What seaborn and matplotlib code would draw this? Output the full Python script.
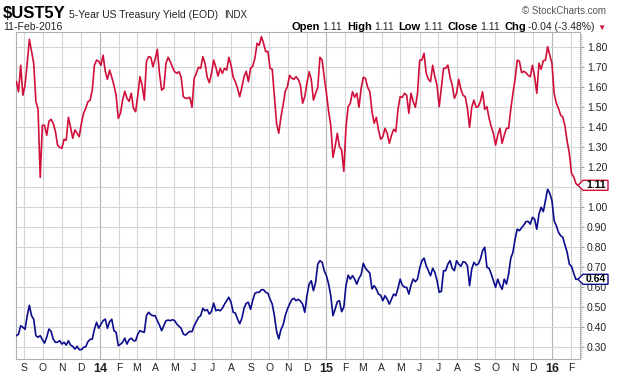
import numpy as np
import pandas as pd
import matplotlib
matplotlib.use("Agg")
import matplotlib.pyplot as plt
from matplotlib.patches import Polygon
from matplotlib.transforms import IdentityTransform
import seaborn as sns

dates = list(pd.date_range("2013-08-19", periods=259, freq="84h")) + [pd.Timestamp("2016-02-11")]

ust5y = [1.63, 1.578, 1.71, 1.56, 1.61, 1.72, 1.84, 1.78, 1.72, 1.53,
         1.49, 1.15, 1.41, 1.41, 1.36, 1.43, 1.44, 1.42, 1.38, 1.31,
         1.30, 1.295, 1.34, 1.335, 1.45, 1.40, 1.345, 1.387, 1.37, 1.353,
         1.42, 1.47, 1.495, 1.528, 1.535, 1.586, 1.71, 1.736, 1.73, 1.71,
         1.76, 1.68, 1.64, 1.686, 1.65, 1.61, 1.56, 1.445, 1.47, 1.536,
         1.58, 1.545, 1.53, 1.57, 1.495, 1.478, 1.56, 1.653, 1.61, 1.536,
         1.73, 1.753, 1.75, 1.703, 1.74, 1.79, 1.67, 1.586, 1.595, 1.72,
         1.75, 1.728, 1.70, 1.678, 1.67, 1.678, 1.65, 1.553, 1.545, 1.545,
         1.55, 1.50, 1.645, 1.67, 1.70, 1.695, 1.753, 1.72, 1.65, 1.623,
         1.67, 1.736, 1.70, 1.656, 1.695, 1.67, 1.695, 1.686, 1.75, 1.71,
         1.65, 1.628, 1.595, 1.553, 1.60, 1.653, 1.68, 1.628, 1.695, 1.706,
         1.745, 1.82, 1.81, 1.853, 1.82, 1.778, 1.78, 1.695, 1.69, 1.553,
         1.42, 1.37, 1.45, 1.511, 1.58, 1.603, 1.66, 1.645, 1.64, 1.653,
         1.64, 1.611, 1.52, 1.553, 1.62, 1.678, 1.64, 1.536, 1.57, 1.60,
         1.75, 1.736, 1.65, 1.57, 1.48, 1.41, 1.25, 1.303, 1.37, 1.303,
         1.287, 1.18, 1.40, 1.503, 1.52, 1.578, 1.55, 1.57, 1.50, 1.595,
         1.65, 1.645, 1.60, 1.578, 1.48, 1.42, 1.45, 1.387, 1.34, 1.353,
         1.395, 1.37, 1.32, 1.36, 1.39, 1.378, 1.49, 1.553, 1.55, 1.57,
         1.56, 1.47, 1.57, 1.528, 1.50, 1.57, 1.736, 1.736, 1.77, 1.67,
         1.64, 1.628, 1.71, 1.653, 1.61, 1.503, 1.60, 1.695, 1.695, 1.711,
         1.65, 1.611, 1.545, 1.57, 1.64, 1.59, 1.56, 1.553, 1.495, 1.40,
         1.50, 1.536, 1.50, 1.503, 1.53, 1.578, 1.49, 1.503, 1.445, 1.403,
         1.37, 1.311, 1.36, 1.395, 1.32, 1.361, 1.395, 1.395, 1.49, 1.57,
         1.64, 1.736, 1.73, 1.673, 1.68, 1.673, 1.66, 1.653, 1.71, 1.653,
         1.57, 1.72, 1.69, 1.733, 1.736, 1.803, 1.76, 1.72, 1.57, 1.52,
         1.495, 1.462, 1.45, 1.406, 1.33, 1.27, 1.17, 1.153, 1.12,
         1.11]

ust2y = [0.358, 0.366, 0.408, 0.40, 0.39, 0.458, 0.51, 0.458, 0.44, 0.358,
         0.35, 0.358, 0.338, 0.321, 0.35, 0.391, 0.38, 0.341, 0.325, 0.325,
         0.333, 0.316, 0.325, 0.311, 0.333, 0.311, 0.305, 0.291, 0.305, 0.288,
         0.288, 0.30, 0.303, 0.328, 0.34, 0.341, 0.39, 0.425, 0.395, 0.416,
         0.433, 0.441, 0.395, 0.428, 0.44, 0.383, 0.375, 0.308, 0.315, 0.325,
         0.346, 0.316, 0.338, 0.346, 0.333, 0.333, 0.366, 0.383, 0.378, 0.375,
         0.458, 0.475, 0.463, 0.458, 0.458, 0.433, 0.411, 0.383, 0.408, 0.433,
         0.436, 0.433, 0.438, 0.433, 0.416, 0.405, 0.395, 0.366, 0.361, 0.371,
         0.38, 0.378, 0.408, 0.428, 0.45, 0.458, 0.495, 0.483, 0.488, 0.466,
         0.48, 0.521, 0.483, 0.488, 0.483, 0.495, 0.516, 0.533, 0.55, 0.525,
         0.475, 0.471, 0.441, 0.418, 0.445, 0.495, 0.52, 0.525, 0.49, 0.535,
         0.57, 0.575, 0.575, 0.588, 0.588, 0.575, 0.57, 0.541, 0.516, 0.458,
         0.38, 0.342, 0.388, 0.411, 0.458, 0.491, 0.516, 0.538, 0.545, 0.533,
         0.54, 0.531, 0.516, 0.475, 0.558, 0.616, 0.633, 0.583, 0.625, 0.716,
         0.733, 0.725, 0.683, 0.658, 0.616, 0.558, 0.458, 0.491, 0.528, 0.533,
         0.478, 0.50, 0.608, 0.661, 0.641, 0.658, 0.641, 0.616, 0.645, 0.663,
         0.72, 0.695, 0.683, 0.671, 0.592, 0.608, 0.592, 0.566, 0.56, 0.533,
         0.558, 0.541, 0.516, 0.541, 0.566, 0.558, 0.595, 0.641, 0.611, 0.60,
         0.60, 0.566, 0.611, 0.641, 0.628, 0.641, 0.695, 0.733, 0.746, 0.708,
         0.683, 0.658, 0.695, 0.675, 0.633, 0.575, 0.58, 0.683, 0.683, 0.716,
         0.733, 0.695, 0.683, 0.733, 0.716, 0.705, 0.728, 0.725, 0.708, 0.608,
         0.691, 0.725, 0.711, 0.716, 0.741, 0.783, 0.80, 0.70, 0.695, 0.666,
         0.633, 0.60, 0.641, 0.611, 0.59, 0.641, 0.616, 0.666, 0.745, 0.775,
         0.841, 0.891, 0.883, 0.898, 0.911, 0.928, 0.93, 0.916, 0.95, 0.941,
         0.89, 0.966, 1.0, 0.978, 1.033, 1.09, 1.07, 1.033, 0.933, 0.908,
         0.875, 0.858, 0.85, 0.811, 0.775, 0.716, 0.705, 0.671, 0.64,
         0.64]

y_ticks = [0.30, 0.40, 0.50, 0.60, 0.70, 0.80, 0.90, 1.00,
           1.10, 1.20, 1.30, 1.40, 1.50, 1.60, 1.70, 1.80]
month_starts = pd.date_range("2013-09-01", "2016-02-01", freq="MS")

symbol = "$UST5Y"
name = "5-Year US Treasury Yield (EOD)"
exchange = "INDX"
date_str = "11-Feb-2016"
quote = [("Open", "1.11"), ("High", "1.11"), ("Low", "1.11"), ("Close", "1.11"), ("Chg", "-0.04 (-3.48%)")]

red = "#d0103a"
blue = "#0c0c8c"

sns.set_style("white")
plt.rcParams['font.family'] = ['Liberation Sans', 'DejaVu Sans']

W, H = 620, 376
fig = plt.figure(figsize=(W / 100, H / 100), dpi=100)
ax = fig.add_axes([16 / W, (H - 359) / H, 564 / W, 327 / H])

df = pd.DataFrame({"date": dates, "UST5Y": ust5y, "UST2Y": ust2y})
sns.lineplot(data=df, x="date", y="UST5Y", color=red, lw=1.2, ax=ax, zorder=3)
sns.lineplot(data=df, x="date", y="UST2Y", color=blue, lw=1.2, ax=ax, zorder=3)

ax.set_xlim(pd.Timestamp("2013-08-18 10:00"), pd.Timestamp("2016-02-14 18:00"))
ax.set_ylim(0.2415, 1.8765)
ax.set_xlabel("")
ax.set_ylabel("")

# right hand price axis, the label under the last-value tag is hidden
last_vals = [ust5y[-1], ust2y[-1]]
ax.yaxis.tick_right()
ax.set_yticks(y_ticks)
ax.set_yticklabels(["" if abs(v - ust5y[-1]) < 0.02 else f"{v:.2f}" for v in y_ticks])
ax.set_yticks(np.arange(0.25, 1.87, 0.01), minor=True)
ax.tick_params(axis="y", which="major", length=3, width=0.8, color="#a0a0a0",
               labelsize=7.5, labelcolor="#222222", pad=2)
ax.tick_params(axis="y", which="minor", length=1.5, width=0.6, color="#b0b0b0")

# month axis, year shown on January
ax.set_xticks(month_starts)
labels = [str(d.year)[2:] if d.month == 1 else d.strftime("%b")[0] for d in month_starts]
ax.set_xticklabels(labels)
ax.tick_params(axis="x", length=0, labelsize=7.5, labelcolor="#222222", pad=3)
for lab, d in zip(ax.get_xticklabels(), month_starts):
    if d.month == 1:
        lab.set_fontweight("bold")
        lab.set_fontsize(9)

ax.grid(True, which="major", color="#d6d6d6", lw=0.8)
for gl, d in zip(ax.get_xgridlines(), month_starts):
    if d.month == 1:
        gl.set_color("#b4b4b4")
for sp in ax.spines.values():
    sp.set_color("#b0b0b0")
    sp.set_linewidth(0.8)

# last value tags on the right axis
fig.canvas.draw()
ax_right = ax.transAxes.transform((1, 0))[0]
for val, col in zip(last_vals, [red, blue]):
    yp = ax.transData.transform((0, val))[1]
    x0 = ax_right - 2
    pts = [(x0, yp), (x0 + 5, yp + 5), (x0 + 30, yp + 5), (x0 + 30, yp - 5), (x0 + 5, yp - 5)]
    fig.patches.append(Polygon(pts, closed=True, fc="white", ec=col, lw=1.0,
                               transform=IdentityTransform(), zorder=5))
    fig.text((x0 + 18) / W, yp / H, f"{val:.2f}", ha="center", va="center",
             fontsize=7.5, fontweight="bold", color="black", zorder=6)

# header
rend = fig.canvas.get_renderer()


def put(x, y, txt, size, weight="normal", color="#222222", ha="left"):
    t = fig.text(x / W, 1 - y / H, txt, fontsize=size, fontweight=weight, color=color,
                 ha=ha, va="baseline")
    return t.get_window_extent(renderer=rend).width


x = 3
x += put(x, 18, symbol, 12, "bold", "black") + 3
x += put(x, 18, name, 7.5) + 6
put(x, 18, exchange, 7)
put(606, 14, "\u00a9 StockCharts.com", 7, color="#555555", ha="right")

put(3, 30, date_str, 7.5)
x = 606
x -= put(x, 30, "\u25bc", 6, color=red, ha="right") + 3
for lab, num in quote[::-1]:
    x -= put(x, 30, num, 7.5, ha="right") + 2
    x -= put(x, 30, lab, 8, "bold", "black", ha="right") + 5

fig.savefig("out.png", dpi=100)
